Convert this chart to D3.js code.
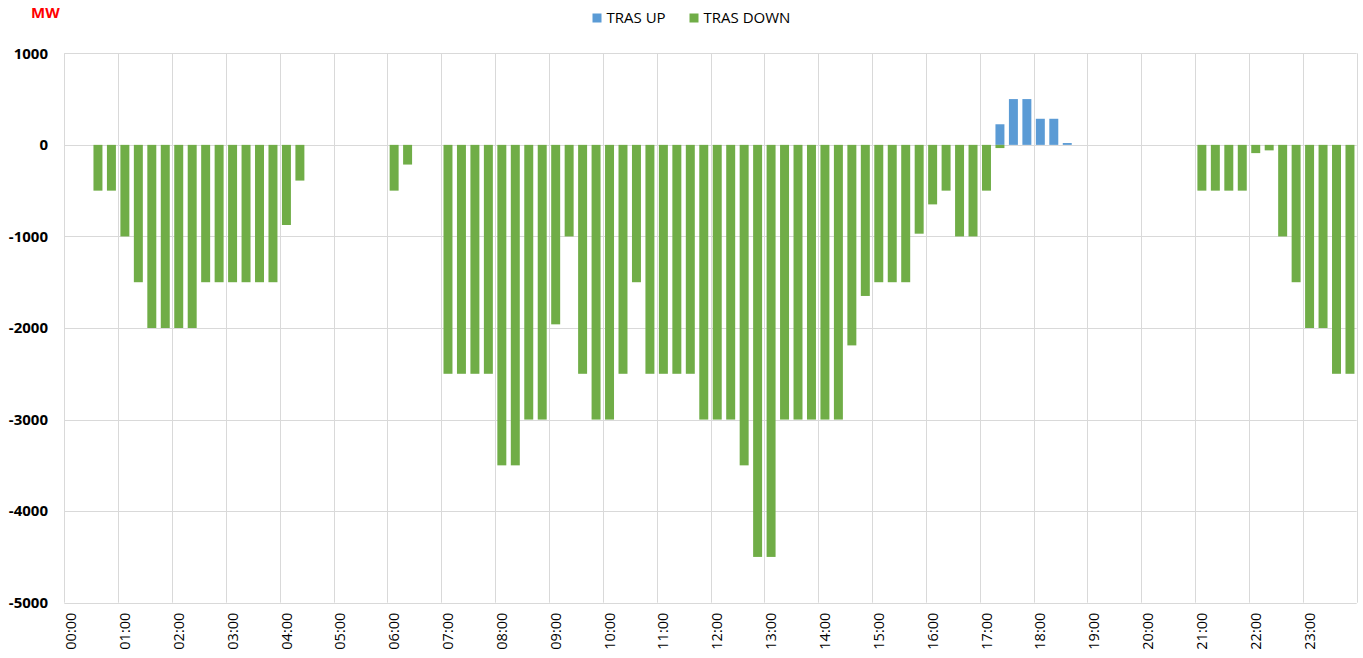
<!DOCTYPE html>
<html>
<head>
<meta charset="utf-8">
<script src="https://cdn.jsdelivr.net/npm/d3@7"></script>
<style>
  body { margin: 0; background: #fff; }
  text { font-family: "Open Sans", sans-serif; }
</style>
</head>
<body>
<div id="container"></div>
<script>
// quarter-hour slots 00:00 .. 23:45
var slots = [];
for (var h = 0; h < 24; h++)
    for (var m = 0; m < 60; m += 15)
        slots.push((h < 10 ? "0" : "") + h + ":" + (m < 10 ? "0" : "") + m);

var yTicks = [1000, 0, -1000, -2000, -3000, -4000, -5000];

var trasUp = [
    0, 0, 0, 0, 0, 0, 0, 0, 0, 0, 0, 0, 0, 0, 0, 0,
    0, 0, 0, 0, 0, 0, 0, 0, 0, 0, 0, 0, 0, 0, 0, 0,
    0, 0, 0, 0, 0, 0, 0, 0, 0, 0, 0, 0, 0, 0, 0, 0,
    0, 0, 0, 0, 0, 0, 0, 0, 0, 0, 0, 0, 0, 0, 0, 0,
    0, 0, 0, 0, 0, 225, 500, 500, 285, 285, 20, 0, 0, 0, 0, 0,
    0, 0, 0, 0, 0, 0, 0, 0, 0, 0, 0, 0, 0, 0, 0, 0
];

var trasDown = [
    0, 0, -500, -500, -1000, -1500, -2000, -2000, -2000, -2000, -1500, -1500, -1500, -1500, -1500, -1500,
    -875, -390, 0, 0, 0, 0, 0, 0, -500, -215, 0, 0, -2500, -2500, -2500, -2500,
    -3500, -3500, -3000, -3000, -1960, -1000, -2500, -3000, -3000, -2500, -1500, -2500, -2500, -2500, -2500, -3000,
    -3000, -3000, -3500, -4500, -4500, -3000, -3000, -3000, -3000, -3000, -2190, -1650, -1500, -1500, -1500, -970,
    -650, -500, -1000, -1000, -500, -35, 0, 0, 0, 0, 0, 0, 0, 0, 0, 0,
    0, 0, 0, 0, -500, -500, -500, -500, -90, -60, -1000, -1500, -2000, -2000, -2500, -2500
];

var series = [
    {name: "TRAS UP", values: trasUp, color: "#5B9BD5"},
    {name: "TRAS DOWN", values: trasDown, color: "#70AD47"}
];

var W = 1363, H = 658;
var plotLeft = 64.3, plotRight = 1356.7, plotTop = 53.3, plotBottom = 602.7;

var svg = d3.select("#container")
    .append("svg")
    .attr("width", W)
    .attr("height", H);

var x = d3.scaleBand()
    .domain(slots)
    .range([plotLeft, plotRight])
    .paddingInner(1 / 3)
    .paddingOuter(1 / 6);
var step = x.step();

var y = d3.scaleLinear().domain([-5000, 1000]).range([plotBottom, plotTop]);

// horizontal gridlines
svg.append("g")
    .selectAll("line")
    .data(yTicks)
    .enter()
    .append("line")
    .attr("x1", plotLeft)
    .attr("x2", plotRight)
    .attr("y1", function (d) { return Math.round(y(d)) + 0.5; })
    .attr("y2", function (d) { return Math.round(y(d)) + 0.5; })
    .attr("stroke", "#D9D9D9")
    .attr("stroke-width", 1);

// vertical gridlines every hour
var hourEdges = d3.range(0, 97, 4);
svg.append("g")
    .selectAll("line")
    .data(hourEdges)
    .enter()
    .append("line")
    .attr("x1", function (i) { return Math.round(plotLeft + i * step) + 0.5; })
    .attr("x2", function (i) { return Math.round(plotLeft + i * step) + 0.5; })
    .attr("y1", y(1000))
    .attr("y2", y(-5000))
    .attr("stroke", "#D9D9D9")
    .attr("stroke-width", 1);

// bars (overlapping series)
series.forEach(function (s) {
    svg.append("g")
        .selectAll("rect")
        .data(s.values.map(function (v, i) { return {slot: slots[i], value: v}; })
            .filter(function (d) { return d.value !== 0; }))
        .enter()
        .append("rect")
        .attr("x", function (d) { return x(d.slot); })
        .attr("width", x.bandwidth())
        .attr("y", function (d) { return y(Math.max(0, d.value)); })
        .attr("height", function (d) { return Math.abs(y(d.value) - y(0)); })
        .attr("fill", s.color);
});

// y axis labels (plain hyphen minus like the original)
var yAxis = svg.append("g")
    .attr("transform", "translate(48,0)")
    .call(d3.axisLeft(y).tickValues(yTicks).tickSize(0).tickPadding(0)
        .tickFormat(function (d) { return String(d); }));
yAxis.select(".domain").remove();
yAxis.selectAll("text")
    .style("font-family", "'Open Sans', sans-serif")
    .style("font-size", "15px")
    .style("font-weight", "bold")
    .attr("fill", "#000");

// x axis labels
var xAxis = svg.append("g")
    .attr("transform", "translate(0," + plotBottom + ")")
    .call(d3.axisBottom(x)
        .tickValues(slots.filter(function (d, i) { return i % 4 === 0; }))
        .tickSize(0));
xAxis.select(".domain").remove();
xAxis.selectAll("text")
    .style("font-family", "'Open Sans', sans-serif")
    .style("font-size", "14.5px")
    .attr("fill", "#000")
    .attr("text-anchor", "end")
    .attr("transform", "rotate(-90)")
    .attr("x", -10)
    .attr("y", 0)
    .attr("dy", "0.35em");

// unit label
svg.append("text")
    .attr("x", 31)
    .attr("y", 18)
    .style("font-size", "15px")
    .style("font-weight", "bold")
    .attr("fill", "#FF0000")
    .text("MW");

// legend
var legendPos = [592.5, 689.5];
var legend = svg.append("g");
series.forEach(function (s, i) {
    legend.append("rect")
        .attr("x", legendPos[i])
        .attr("y", 13.5)
        .attr("width", 9)
        .attr("height", 9)
        .attr("fill", s.color);
    legend.append("text")
        .attr("x", legendPos[i] + 14)
        .attr("y", 18)
        .attr("dy", "0.35em")
        .style("font-size", "15px")
        .attr("fill", "#000")
        .text(s.name);
});
</script>
</body>
</html>
